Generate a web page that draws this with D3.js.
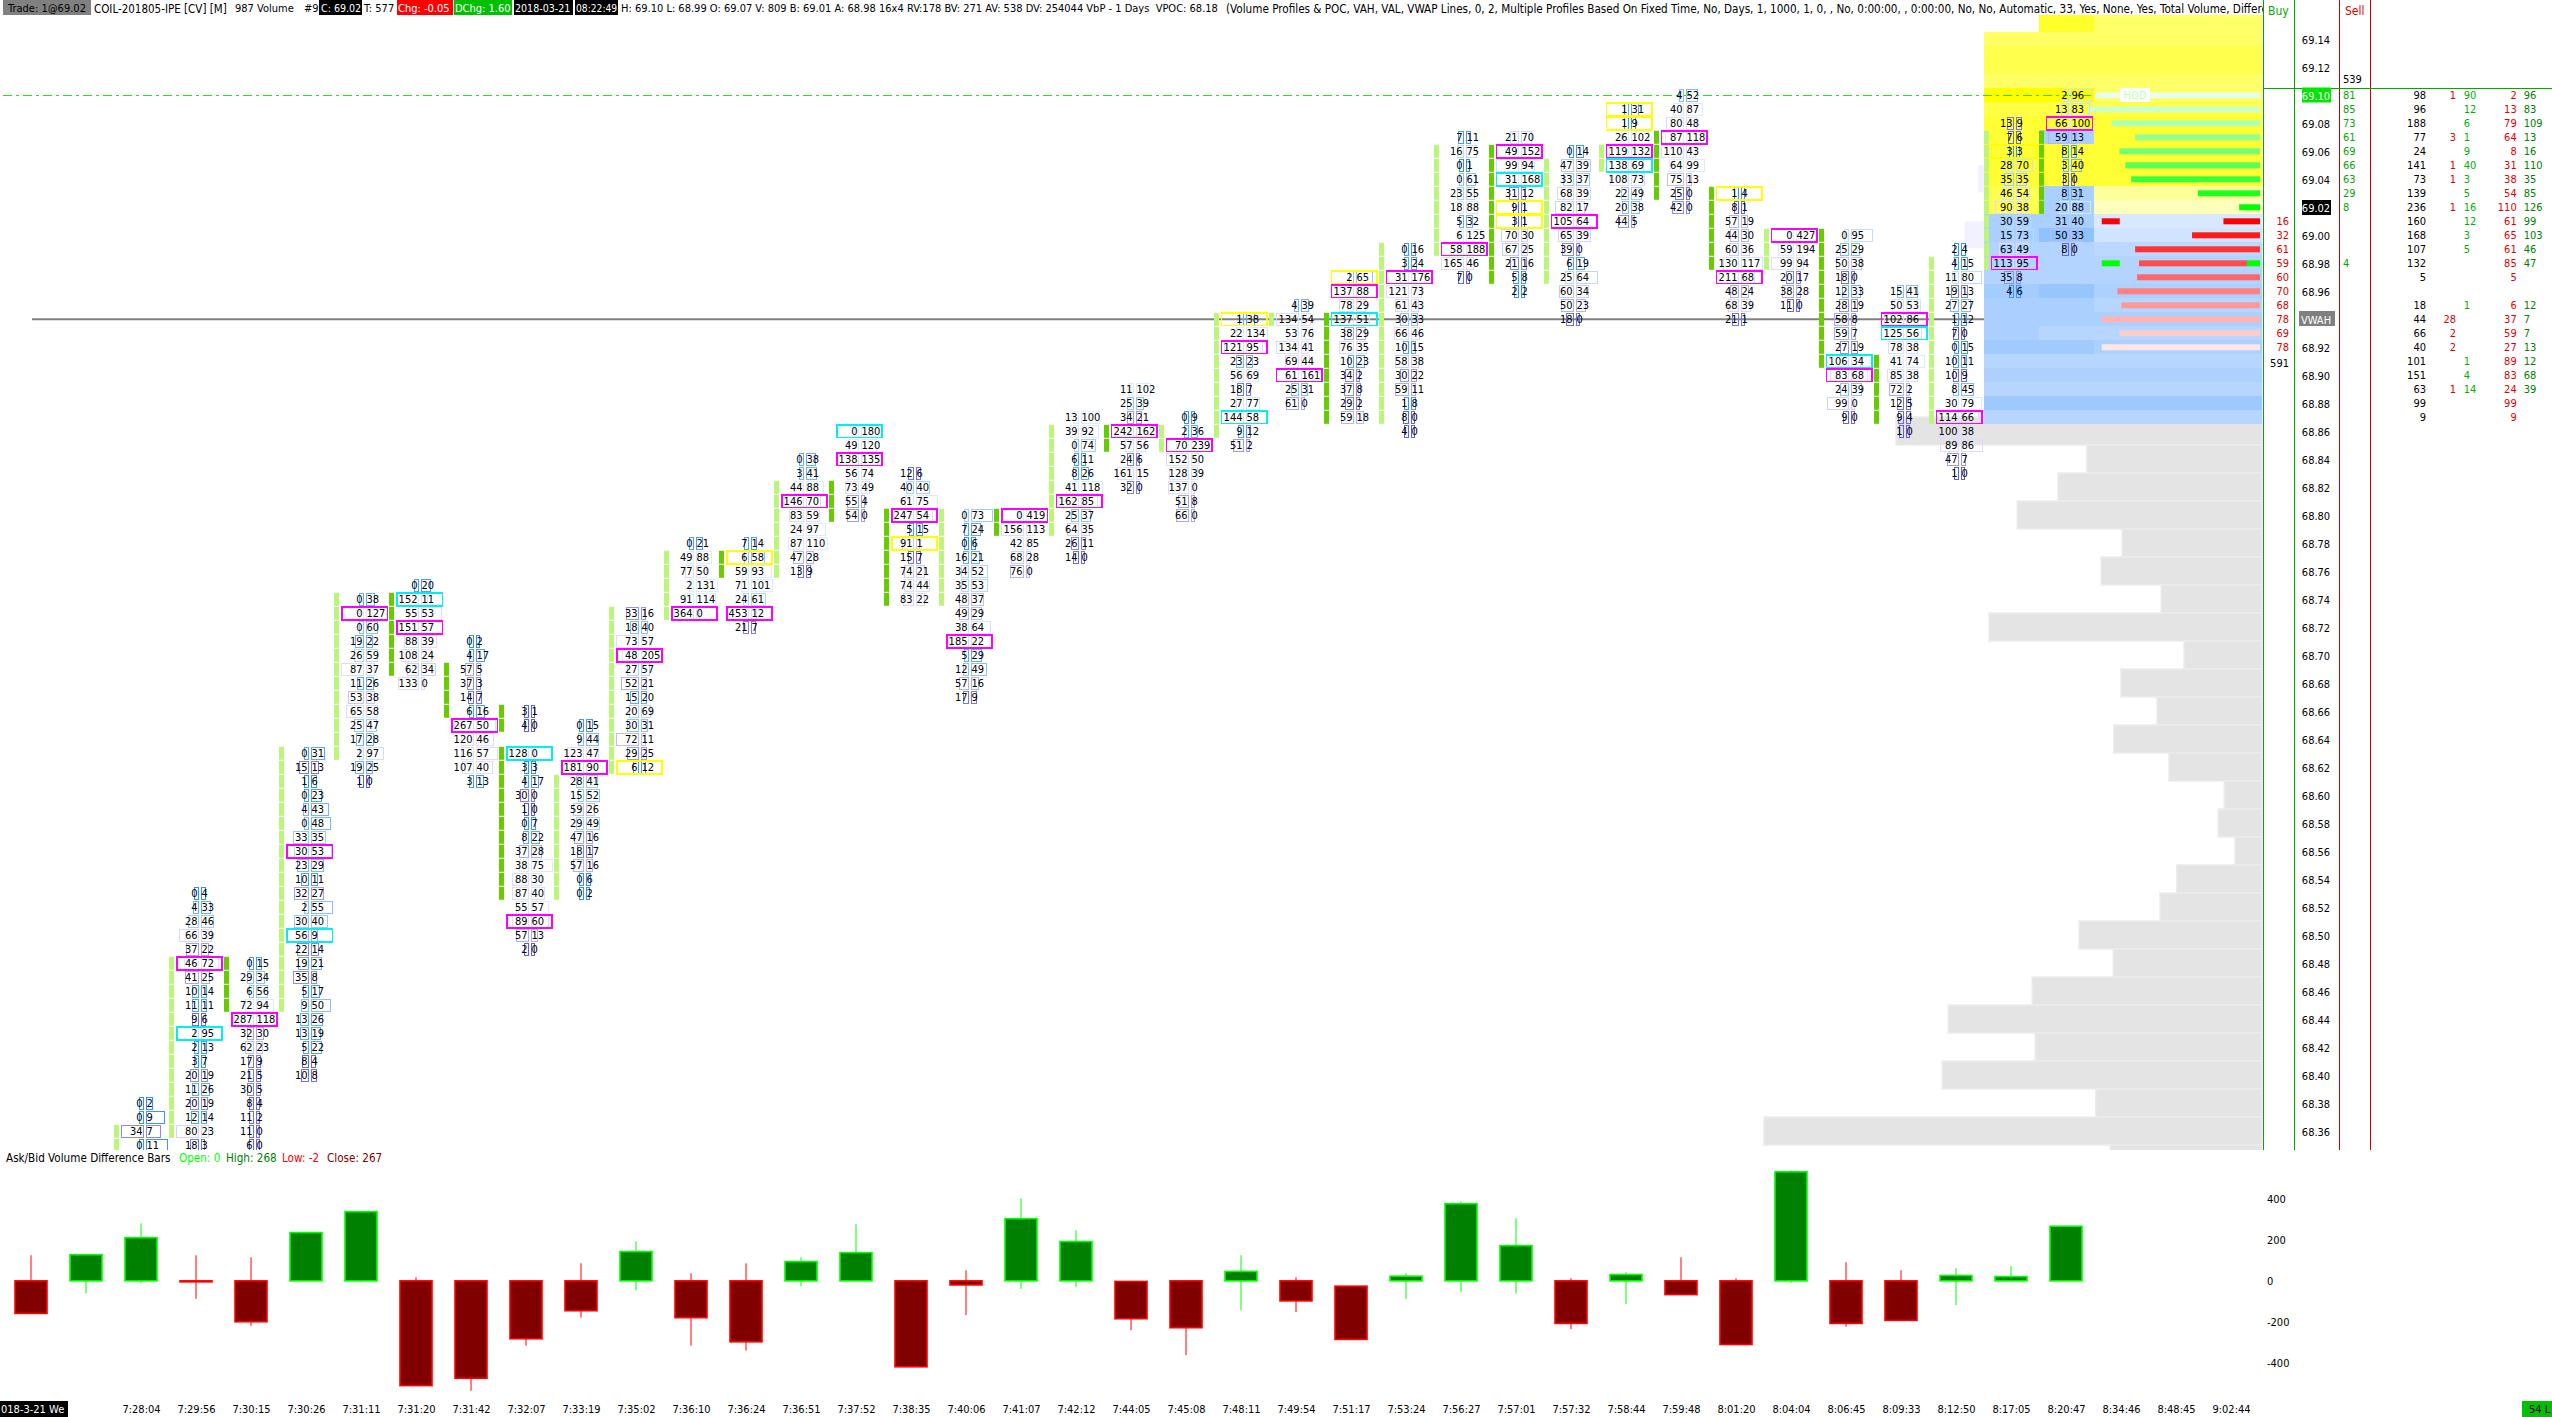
<!DOCTYPE html>
<html><head><meta charset="utf-8">
<script src="https://cdnjs.cloudflare.com/ajax/libs/d3/7.8.5/d3.min.js"></script>
<style>
html,body{margin:0;padding:0;background:#fff;overflow:hidden}
svg{display:block}
text{font-family:"DejaVu Sans Condensed","Noto Sans",sans-serif;font-size:11px;fill:#000}
.axis path{display:none}
</style></head><body>
<script>
// ---------- footprint columns: [bid, ask, highlight?]  (m=magenta, c=cyan, y=yellow), null = no trades ----------
const col02=[[0,2],[0,9],[34,7],[0,11]];
const col03=[[0,4],[4,33],[28,46],[66,39],[37,22],[46,72,'m'],[41,25],[10,14],[11,11],[9,6],[2,95,'c'],[2,13],[3,7],[20,19],[11,26],[20,19],[12,14],[80,23],[18,3]];
const col04=[[0,15],[29,34],[6,56],[72,94],[287,118,'m'],[32,30],[62,23],[17,9],[21,5],[30,5],[8,4],[11,2],[11,0],[6,0]];
const col05=[[0,31],[15,13],[1,6],[0,23],[4,43],[0,48],[33,35],[30,53,'m'],[23,29],[10,11],[32,27],[2,55],[30,40],[56,9,'c'],[22,14],[19,21],[35,8],[5,17],[9,50],[13,26],[13,19],[5,22],[8,4],[10,8]];
const col06=[[0,38],[0,127,'m'],[0,60],[19,22],[26,59],[87,37],[11,26],[53,38],[65,58],[25,47],[17,28],[2,97],[19,25],[1,0]];
const col07=[[0,20],[152,11,'c'],[55,53],[151,57,'m'],[88,39],[108,24],[62,34],[133,0]];
const col08=[[0,2],[4,17],[57,5],[37,3],[14,7],[6,16],[267,50,'m'],[120,46],[116,57],[107,40],[3,13]];
const col09=[[3,1],[4,0],null,[128,0,'c'],[3,3],[4,17],[30,0],[1,0],[0,7],[8,22],[37,28],[38,75],[88,30],[87,40],[55,57],[89,60,'m'],[57,13],[2,0]];
const col10=[[0,15],[9,44],[123,47],[181,90,'m'],[28,41],[15,52],[59,26],[29,49],[47,16],[18,17],[57,16],[0,6],[0,2]];
const col11=[[33,16],[18,40],[73,57],[48,205,'m'],[27,57],[52,21],[15,20],[20,69],[30,31],[72,11],[29,25],[6,12,'y']];
const col12=[[0,21],[49,88],[77,50],[2,131],[91,114],[364,0,'m']];
const col13=[[7,14],[6,58,'y'],[59,93],[71,101],[24,61],[453,12,'m'],[21,7]];
const col14=[[0,38],[3,41],[44,88],[146,70,'m'],[83,59],[24,97],[87,110],[47,28],[13,9]];
const col15=[[0,180,'c'],[49,120],[138,135,'m'],[56,74],[73,49],[55,4],[54,0]];
const col16=[[12,6],[40,40],[61,75],[247,54,'m'],[5,15],[91,1,'y'],[15,7],[74,21],[74,44],[83,22]];
const col17=[[0,73],[7,24],[0,6],[16,21],[34,52],[35,53],[48,37],[49,29],[38,64],[185,22,'m'],[5,29],[12,49],[57,16],[17,9]];
const col18=[[0,419,'m'],[156,113],[42,85],[68,28],[76,0]];
const col19=[[13,100],[39,92],[0,74],[6,11],[8,26],[41,118],[162,85,'m'],[25,37],[64,35],[26,11],[14,0]];
const col20=[[11,102],[25,39],[34,21],[242,162,'m'],[57,56],[24,6],[161,15],[32,0]];
const col21=[[0,9],[2,36],[70,239,'m'],[152,50],[128,39],[137,0],[51,8],[66,0]];
const col22=[[1,38,'y'],[22,134],[121,95,'m'],[23,23],[56,69],[18,7],[27,77],[144,58,'c'],[9,12],[51,2]];
const col23=[[4,39],[134,54],[53,76],[134,41],[69,44],[61,161,'m'],[25,31],[61,0]];
const col24=[[2,65,'y'],[137,88,'m'],[78,29],[137,51,'c'],[38,29],[76,35],[10,23],[34,2],[37,8],[29,2],[59,18]];
const col25=[[0,16],[3,24],[31,176,'m'],[121,73],[61,43],[30,33],[66,46],[10,15],[58,38],[30,22],[59,11],[1,8],[8,0],[4,0]];
const col26=[[7,11],[16,75],[0,1],[0,61],[23,55],[18,88],[5,32],[6,125],[58,188,'m'],[165,46],[7,0]];
const col27=[[21,70],[49,152,'m'],[99,94],[31,168,'c'],[31,12],[9,1,'y'],[3,1,'y'],[70,30],[67,25],[21,16],[5,8],[2,2]];
const col28=[[0,14],[47,39],[33,37],[68,39],[82,17],[105,64,'m'],[65,39],[39,0],[6,19],[25,64],[60,34],[50,23],[18,0]];
const col29=[[1,31,'y'],[1,9,'y'],[26,102],[119,132,'m'],[138,69,'c'],[108,73],[22,49],[20,38],[44,5]];
const col30=[[4,52],[40,87],[80,48],[87,118,'m'],[110,43],[64,99],[75,13],[25,0],[42,0]];
const col31=[[1,4,'y'],[8,1],[57,19],[44,30],[60,36],[130,117],[211,68,'m'],[48,24],[68,39],[21,1]];
const col32=[[0,427,'m'],[59,194],[99,94],[20,17],[38,28],[11,0]];
const col33=[[0,95],[25,29],[50,38],[18,0],[12,33],[28,19],[58,8],[59,7],[27,19],[106,34,'c'],[83,68,'m'],[24,39],[99,0],[9,0]];
const col34=[[15,41],[50,53],[102,86,'m'],[125,56,'c'],[78,38],[41,74],[85,38],[72,2],[12,5],[9,4],[1,0]];
const col35=[[2,4],[4,15],[11,80],[19,13],[27,27],[1,12],[7,0],[0,15],[10,11],[10,9],[8,45],[30,79],[114,66,'m'],[100,38],[89,86],[47,7],[1,0]];
const col36=[[13,9],[7,6],[3,3,'y'],[28,70],[35,35],[46,54],[90,38],[30,59],[15,73],[63,49],[113,95,'m'],[35,8],[4,6]];
const col37=[[2,96],[13,83],[66,100,'m'],[59,13],[8,14],[3,40],[3,0],[8,31],[20,88],[31,40],[50,33],[8,0]];
const footprintCols=[col02,col03,col04,col05,col06,col07,col08,col09,col10,col11,col12,col13,col14,col15,col16,col17,col18,col19,col20,col21,col22,col23,col24,col25,col26,col27,col28,col29,col30,col31,col32,col33,col34,col35,col36,col37];
// price of each column's top row, column 2 onward
const colTopPrice=[68.38,68.53,68.48,68.63,68.74,68.75,68.71,68.66,68.65,68.73,68.78,68.78,68.84,68.86,68.83,68.80,68.80,68.87,68.89,68.87,68.94,68.95,68.97,68.99,69.07,69.07,69.06,69.09,69.10,69.03,69.00,69.00,68.96,68.99,69.08,69.10];
// open-close range strips: [column, high price, low price, strong?]
const openCloseStrips=[[2,68.36,68.35,0],[3,68.48,68.36,0],[4,68.48,68.45,1],[5,68.63,68.45,0],[6,68.74,68.63,0],[7,68.74,68.69,1],[8,68.69,68.66,1],[9,68.66,68.65,1],[9,68.63,68.53,1],[10,68.61,68.53,0],[11,68.73,68.62,0],[12,68.77,68.73,0],[13,68.77,68.76,1],[14,68.82,68.76,0],[15,68.82,68.80,1],[16,68.80,68.74,1],[17,68.80,68.74,0],[18,68.80,68.79,1],[19,68.86,68.79,0],[20,68.86,68.85,1],[21,68.86,68.85,0],[22,68.94,68.86,0],[23,68.94,68.94,0],[24,68.94,68.87,1],[25,68.99,68.87,0],[26,69.06,68.99,0],[27,69.06,68.97,1],[28,69.05,68.97,0],[29,69.06,69.05,0],[30,69.07,69.03,1],[31,69.03,68.98,1],[32,69.00,68.98,0],[33,69.00,68.91,1],[34,68.91,68.87,1],[35,68.98,68.87,0],[36,69.07,68.98,0],[37,69.07,69.02,1]];

// ---------- delta bars ----------
const deltaOpen=[0,0,0,0,0,0,0,0,0,0,0,0,0,0,0,0,0,0,0,0,-3,0,0,0,-26,0,0,0,0,0,0,0,0,0,0,0,0,0];
const deltaClose=[-159,128,211,-3,-200,236,338,-512,-476,-283,-146,143,-180,-298,94,138,-420,-20,304,192,-185,-229,46,-98,-286,23,377,172,-208,31,-67,-311,533,-208,-193,26,21,267];
const deltaHigh=[125,128,281,125,115,236,338,18,0,0,86,193,37,86,115,278,0,52,403,247,-3,0,125,18,-26,37,389,306,13,42,115,13,540,91,52,62,72,268];
const deltaLow=[-159,-62,-13,-88,-220,0,-5,-512,-537,-317,-180,-46,-317,-341,-26,0,-420,-167,-39,-31,-241,-363,-143,-153,-286,-89,-55,-63,-236,-114,-67,-311,-10,-224,-193,-119,-5,-2];
const deltaTicks=[400,200,0,-200,-400];
const timeLabels=["7:28:04","7:29:56","7:30:15","7:30:26","7:31:11","7:31:20","7:31:42","7:32:07","7:33:19","7:35:02","7:36:10","7:36:24","7:36:51","7:37:52","7:38:35","7:40:06","7:41:07","7:42:12","7:44:05","7:45:08","7:48:11","7:49:54","7:51:17","7:53:24","7:56:27","7:57:01","7:57:32","7:58:44","7:59:48","8:01:20","8:04:04","8:06:45","8:09:33","8:12:50","8:17:05","8:20:47","8:34:46","8:48:45","9:02:44"];

// ---------- price axis and right-hand tables, by row below 69.10 ----------
const priceTicks=d3.range(0,40).map(i=>+(69.14-i*0.02).toFixed(2));
const buyColumn=[null,null,null,null,null,null,null,null,null,16,32,61,59,60,70,68,78,69,78];
const sellColumn=[81,85,73,61,69,66,63,29,8,null,null,null,4];
const totalColumn=[98,96,188,77,24,141,73,139,236,160,168,107,132,5,null,18,44,66,40,101,151,63,99,9];
const lastBidColumn=[1,null,null,3,null,1,1,null,1,null,null,null,null,null,null,null,28,2,2,null,null,1];
const lastAskColumn=[90,12,6,1,9,40,3,5,16,12,3,5,null,null,null,1,null,null,null,1,4,14];
const sessBidColumn=[2,13,79,64,8,31,38,54,110,61,65,61,85,5,null,6,37,59,27,89,83,24,99,9];
const sessAskColumn=[96,83,109,13,16,110,35,85,126,99,103,46,47,null,null,12,7,7,13,12,68,39];

// ---------- volume profile ----------
// level per row from 69.15 to 68.87 for 3 sections. + = yellow level, - = blue level
const profileSec1=[null,.5,.62,.62,.5,1,.67,.75,.75,.75,.75,.75,.6,.6,-.6,-.6,-.5,-.5,-.5,-.7,-.6,-.6,-.6,-.72,-.45,-.58,-.45,-.78,-.45];
const profileSec2=[.8,.5,.62,.62,.5,1,.67,.75,-.6,.75,.75,.75,-.6,-.6,-.6,-.95,-.5,-.5,-.5,-.85,-.6,-.6,-.45,-.72,-.45,-.58,-.45,-.78,-.45];
const profileSec3=[.5,.5,.62,.62,.5,.5,.67,.75,.75,.75,.75,.75,.25,.08,-.01,-.1,-.38,-.5,-.5,-.58,-.45,-.6,-.45,-.58,-.45,-.58,-.45,-.78,-.45];
const lowerPrices=[68.86,68.84,68.82,68.80,68.78,68.76,68.74,68.72,68.70,68.68,68.66,68.64,68.62,68.60,68.58,68.56,68.54,68.52,68.50,68.48,68.46,68.44,68.42,68.40,68.38,68.36,68.34];
const lowerVolume=[610,292,340,408,233,268,168,455,130,235,175,247,155,63,73,45,142,170,305,248,383,523,378,533,277,830,253];
// pale shadows left of the profile: [top price, volume-width]
const paleTop=[69.05,69.01];
const paleVolume=[10,32];

// ---------- geometry and scales ----------
const W=2552,H=1417;
const xBar=d3.scaleLinear().domain([0,40]).range([31,2231]);
const yPrice=d3.scaleLinear().domain([69.10,68.36]).range([95.3,1131.3]);
const yDelta=d3.scaleLinear().domain([-400,400]).range([1362.7,1199]);
const profileRight=2262;
const xVolume=d3.scaleLinear().domain([0,830]).range([0,498]);
const xImbalance=d3.scaleLinear().domain([0,85]).range([5.15,172]);
const rowPrice=r=>+(69.10-r/100).toFixed(2);
const yellowShade=d3.scaleLinear().domain([0,1]).range(["#ffffcc","#ffff00"]);
const blueShade=d3.scaleLinear().domain([0,1]).range(["#d8e8ff","#8cc0ff"]);
const shade=v=>v>0?yellowShade(v):blueShade(-v);
const askBoxShade=d3.scaleLinear().domain([0,110]).range(["#2b8cff","#dbeaff"]).clamp(true);
const bidBoxShade=d3.scaleLinear().domain([0,110]).range(["#5a5af0","#dcdcff"]).clamp(true);
const markColor={m:"#ff00ff",c:"#00f0f0",y:"#ffff00"};
const greenRamp=d3.scaleLinear().domain([0,8]).range(["#e8ffe8","#00ff00"]);
const redRamp=d3.scaleLinear().domain([9,18]).range(["#ff0000","#ffe6e6"]);

const svg=d3.select("body").append("svg").attr("width",W).attr("height",H).attr("viewBox",`0 0 ${W} ${H}`);
const defs=svg.append("defs");
defs.append("clipPath").attr("id","mainClip").append("rect").attr("x",0).attr("y",0).attr("width",profileRight).attr("height",1150);
defs.append("clipPath").attr("id","hdrClip").append("rect").attr("x",0).attr("y",0).attr("width",2263).attr("height",16);

// VWAH line under everything
svg.append("line").attr("x1",32).attr("x2",profileRight).attr("y1",yPrice(68.94)).attr("y2",yPrice(68.94)).attr("stroke","#808080").attr("stroke-width",2);

// lower grey profile
const gProf=svg.append("g").attr("clip-path","url(#mainClip)");
gProf.selectAll("rect.low").data(lowerPrices).join("rect").attr("class","low")
 .attr("x",(d,i)=>profileRight-xVolume(lowerVolume[i])).attr("width",(d,i)=>xVolume(lowerVolume[i]))
 .attr("y",d=>yPrice(d)-14.3).attr("height",28).attr("fill","#e4e4e4").attr("stroke","#ececec").attr("stroke-width",1.5);

// pale shadows
paleTop.forEach((p,i)=>{
  gProf.append("rect").attr("x",xBar(36)-27-xVolume(paleVolume[i])).attr("width",xVolume(paleVolume[i]))
    .attr("y",yPrice(p)).attr("height",27).attr("fill","#f1f1ff");
});

// yellow/blue upper profile cells
const secEdges=[[xBar(36)-27,xBar(37)-27],[xBar(37)-27,xBar(38)-27],[xBar(38)-27,profileRight]];
[profileSec1,profileSec2,profileSec3].forEach((sec,s)=>{
  sec.forEach((v,k)=>{
    if(v===null) return;
    const p=rowPrice(k-5), top=k===0?yPrice(p)-10:yPrice(p)-7, bot=yPrice(p)+7;
    gProf.append("rect").attr("x",secEdges[s][0]).attr("width",secEdges[s][1]-secEdges[s][0])
      .attr("y",top).attr("height",bot-top).attr("fill",shade(v)).attr("shape-rendering","crispEdges");
  });
});

// HOD dash-dot line
svg.append("line").attr("x1",3).attr("x2",profileRight).attr("y1",95.5).attr("y2",95.5)
  .attr("stroke","#22e022").attr("stroke-width",1.2).attr("stroke-dasharray","9 4 3 4");

// imbalance bars
const gImb=svg.append("g");
sellColumn.forEach((v,r)=>{ if(v===null) return; const w=xImbalance(v);
  gImb.append("rect").attr("x",profileRight-2-w).attr("width",w).attr("y",yPrice(rowPrice(r))-3).attr("height",6).attr("fill",r===12?"#00ff00":greenRamp(r));});
buyColumn.forEach((v,r)=>{ if(v===null) return; const w=xImbalance(v);
  let x=profileRight-2-w;
  gImb.append("rect").attr("x",x).attr("width",r===12?w-13:w).attr("y",yPrice(rowPrice(r))-3).attr("height",6).attr("fill",redRamp(r));});
[[9,"#ff0000"],[12,"#00ff00"]].forEach(([r,c])=>{
  gImb.append("rect").attr("x",profileRight-2-xImbalance(78)).attr("width",18).attr("y",yPrice(rowPrice(r))-3).attr("height",6).attr("fill",c);});
// HOD tag
gImb.append("rect").attr("x",2120).attr("y",88).attr("width",30).attr("height",14).attr("fill","#fff");
gImb.append("text").attr("x",2135).attr("y",95.5).attr("dy",".36em").attr("text-anchor","middle").style("fill","#b8ffb8").text("HOD");

// footprint columns
const gFp=svg.append("g").attr("clip-path","url(#mainClip)");
const div=i=>xBar(i)+3.5;
// strips
openCloseStrips.forEach(([i,hi,lo,strong])=>{
  const r0=Math.round((69.10-hi)*100), r1=Math.round((69.10-lo)*100);
  d3.range(r0,r1+1).forEach(r=>{
    gFp.append("rect").attr("x",div(i)-28-2.5).attr("width",5).attr("y",yPrice(rowPrice(r))-6.5).attr("height",13)
      .attr("fill",strong?"#66cc00":"#bbf67a");
  });
});
footprintCols.forEach((rows,c)=>{
  const i=c+2, top=Math.round((69.10-colTopPrice[c])*100);
  const present=rows.filter(Boolean);
  const bidW=d3.scaleLinear().domain([0,d3.max(present,d=>d[0])||1]).range([3.3,21.5]);
  const askW=d3.scaleLinear().domain([0,d3.max(present,d=>d[1])||1]).range([3.3,21.5]);
  const g=gFp.append("g");
  rows.forEach((d,k)=>{
    if(!d) return;
    const y=yPrice(rowPrice(top+k)), [b,a,m]=d, total=a+b;
    const col=a>=b?askBoxShade(total):bidBoxShade(total);
    g.append("rect").attr("x",div(i)-1.5-bidW(b)).attr("y",y-6.2).attr("width",bidW(b)).attr("height",12.4).attr("fill","none").attr("stroke",col).attr("stroke-width",1).attr("shape-rendering","crispEdges");
    g.append("rect").attr("x",div(i)+1.5).attr("y",y-6.2).attr("width",askW(a)).attr("height",12.4).attr("fill","none").attr("stroke",col).attr("stroke-width",1).attr("shape-rendering","crispEdges");
    if(m) g.append("rect").attr("x",div(i)-22.8).attr("y",y-6.4).attr("width",45.6).attr("height",12.8).attr("fill","none").attr("stroke",markColor[m]).attr("stroke-width",1.6).attr("shape-rendering","crispEdges");
    g.append("text").attr("x",div(i)-2).attr("y",y).attr("dy",".36em").attr("text-anchor","end").text(b);
    g.append("text").attr("x",div(i)+2).attr("y",y).attr("dy",".36em").text(a);
  });
});

// vertical and horizontal frame lines
[[2263.5,"#00a800"],[2294.5,"#00a800"],[2339.5,"#c80000"],[2370.5,"#c80000"]].forEach(([x,c])=>{
  svg.append("line").attr("x1",x).attr("x2",x).attr("y1",0).attr("y2",1150).attr("stroke",c).attr("stroke-width",1);
});
svg.append("line").attr("x1",2263).attr("x2",W).attr("y1",88.5).attr("y2",88.5).attr("stroke","#00a800").attr("stroke-width",1);
svg.append("text").attr("x",2268).attr("y",11).attr("dy",".36em").style("fill","#00a800").style("font-size","12px").text("Buy");
svg.append("text").attr("x",2345).attr("y",11).attr("dy",".36em").style("fill","#dd0000").style("font-size","12px").text("Sell");

// price axis
svg.append("rect").attr("x",2302).attr("y",87.5).attr("width",29).attr("height",15).attr("fill","#00e600");
svg.append("rect").attr("x",2302).attr("y",200).attr("width",29).attr("height",15).attr("fill","#000");
svg.append("rect").attr("x",2299).attr("y",311).attr("width",36).attr("height",15).attr("fill","#808080");
const pAxis=svg.append("g").attr("class","axis").attr("transform","translate(2316,0)")
  .call(d3.axisRight(yPrice).tickValues(priceTicks).tickSize(0).tickPadding(0)
  .tickFormat(d=>Math.abs(d-68.94)<.001?"VWAH":d3.format(".2f")(d)));
pAxis.selectAll("text").attr("x",0).attr("dy",".36em").attr("text-anchor","middle")
  .style("font-family",null).style("font-size",null)
  .style("fill",d=>(Math.abs(d-69.10)<.001||Math.abs(d-69.02)<.001||Math.abs(d-68.94)<.001)?"#fff":"#000");
pAxis.attr("font-family",null).attr("font-size",null);

// right columns
function column(vals,x,anchor,color){
  svg.append("g").selectAll("text").data(vals.map((v,r)=>({v,r})).filter(d=>d.v!==null)).join("text")
   .attr("x",x).attr("y",d=>yPrice(rowPrice(d.r))).attr("dy",".36em").attr("text-anchor",anchor).style("fill",color).text(d=>d.v);
}
column(buyColumn,2289,"end","#e00000");
column(sellColumn,2343,"start","#00a800");
column(totalColumn,2426,"end","#000");
column(lastBidColumn,2456,"end","#e00000");
column(lastAskColumn,2463.7,"start","#00b000");
column(sessBidColumn,2516.7,"end","#e00000");
column(sessAskColumn,2523.7,"start","#008000");
svg.append("text").attr("x",2289).attr("y",363).attr("dy",".36em").attr("text-anchor","end").text(591);
svg.append("text").attr("x",2343).attr("y",79).attr("dy",".36em").text(539);

// delta panel
const gDelta=svg.append("g");
const barColors=(o,c)=>c>=o?["#008000","#00ff00"]:["#800000","#ff0000"];
deltaClose.forEach((c,i)=>{
  const o=deltaOpen[i],[fill,stroke]=barColors(o,c);
  gDelta.append("line").attr("x1",xBar(i)).attr("x2",xBar(i)).attr("y1",yDelta(deltaHigh[i])).attr("y2",yDelta(deltaLow[i])).attr("stroke",stroke).attr("stroke-width",1);
  const t=yDelta(Math.max(o,c)),b=yDelta(Math.min(o,c));
  gDelta.append("rect").attr("x",xBar(i)-16).attr("width",32).attr("y",t).attr("height",Math.max(b-t,1)).attr("fill",fill).attr("stroke",stroke).attr("stroke-width",1.6);
});
const dAxis=svg.append("g").attr("class","axis").attr("transform","translate(2267,0)")
  .call(d3.axisRight(yDelta).tickValues(deltaTicks).tickSize(0).tickPadding(0).tickFormat(d=>String(d)));
dAxis.attr("font-family",null).attr("font-size",null);
dAxis.selectAll("text").attr("dy",".36em").style("fill","#000");

// legend of the lower panel
[["Ask/Bid Volume Difference Bars",6,"#000"],["Open: 0",179,"#00ff00"],["High: 268",226,"#008000"],["Low: -2",282,"#ff0000"],["Close: 267",327,"#800000"]].forEach(([t,x,c])=>{
  svg.append("text").attr("x",x).attr("y",1158).attr("dy",".36em").style("fill",c).style("font-size","11.6px").text(t);
});

// time axis
const xAxis=svg.append("g").attr("class","axis").attr("transform","translate(0,1408.7)")
  .call(d3.axisBottom(xBar).tickValues(d3.range(2,41)).tickSize(0).tickPadding(0).tickFormat(i=>timeLabels[i-2]));
xAxis.attr("font-family",null).attr("font-size",null);
xAxis.selectAll("text").attr("y",0).attr("dy",".36em").style("fill","#000");
svg.append("rect").attr("x",0).attr("y",1401).attr("width",68).attr("height",16).attr("fill","#000");
svg.append("text").attr("x",1).attr("y",1409).attr("dy",".36em").style("fill","#fff").text("018-3-21 We");
svg.append("rect").attr("x",2522).attr("y",1401).attr("width",30).attr("height",16).attr("fill","#00c000");
svg.append("text").attr("x",2529).attr("y",1409).attr("dy",".36em").text("54 L");

// header
const hdr=svg.append("g").attr("clip-path","url(#hdrClip)");
const headerSegments=[
 {t:"Trade: 1@69.02",x:8,bg:"#808080",x0:3,x1:91,c:"#000",s:11},
 {t:"COIL-201805-IPE [CV] [M]",x:94,c:"#000",s:11.5},
 {t:"987 Volume",x:235,c:"#000",s:11},
 {t:"#9",x:304,c:"#000",s:11},
 {t:"C: 69.02",x:321,bg:"#000",x0:319,x1:362,c:"#fff",s:10.6},
 {t:"T: 577",x:364,c:"#000",s:11},
 {t:"Chg: -0.05",x:398,bg:"#ff0000",x0:397,x1:453,c:"#fff",s:11},
 {t:"DChg: 1.60",x:455,bg:"#00c000",x0:454,x1:512,c:"#fff",s:11},
 {t:"2018-03-21",x:515,bg:"#000",x0:514,x1:573,c:"#fff",s:10.6},
 {t:"08:22:49",x:576,bg:"#000",x0:575,x1:618,c:"#fff",s:10.2},
 {t:"H: 69.10 L: 68.99 O: 69.07 V: 809 B: 69.01 A: 68.98 16x4 RV:178 BV: 271 AV: 538 DV: 254044 VbP - 1 Days  VPOC: 68.18",x:621,c:"#000",s:11},
 {t:"(Volume Profiles & POC, VAH, VAL, VWAP Lines, 0, 2, Multiple Profiles Based On Fixed Time, No, Days, 1, 1000, 1, 0, , No, 0:00:00, , 0:00:00, No, No, Automatic, 33, Yes, None, Yes, Total Volume, Difference",x:1226,c:"#000",s:11.62}
];
headerSegments.forEach(s=>{
  if(s.bg) hdr.append("rect").attr("x",s.x0).attr("y",0).attr("width",s.x1-s.x0).attr("height",15).attr("fill",s.bg);
  hdr.append("text").attr("x",s.x).attr("y",8.5).attr("dy",".36em").attr("xml:space","preserve").style("white-space","pre").style("fill",s.c).style("font-size",s.s+"px").text(s.t);
});
</script>
</body></html>
